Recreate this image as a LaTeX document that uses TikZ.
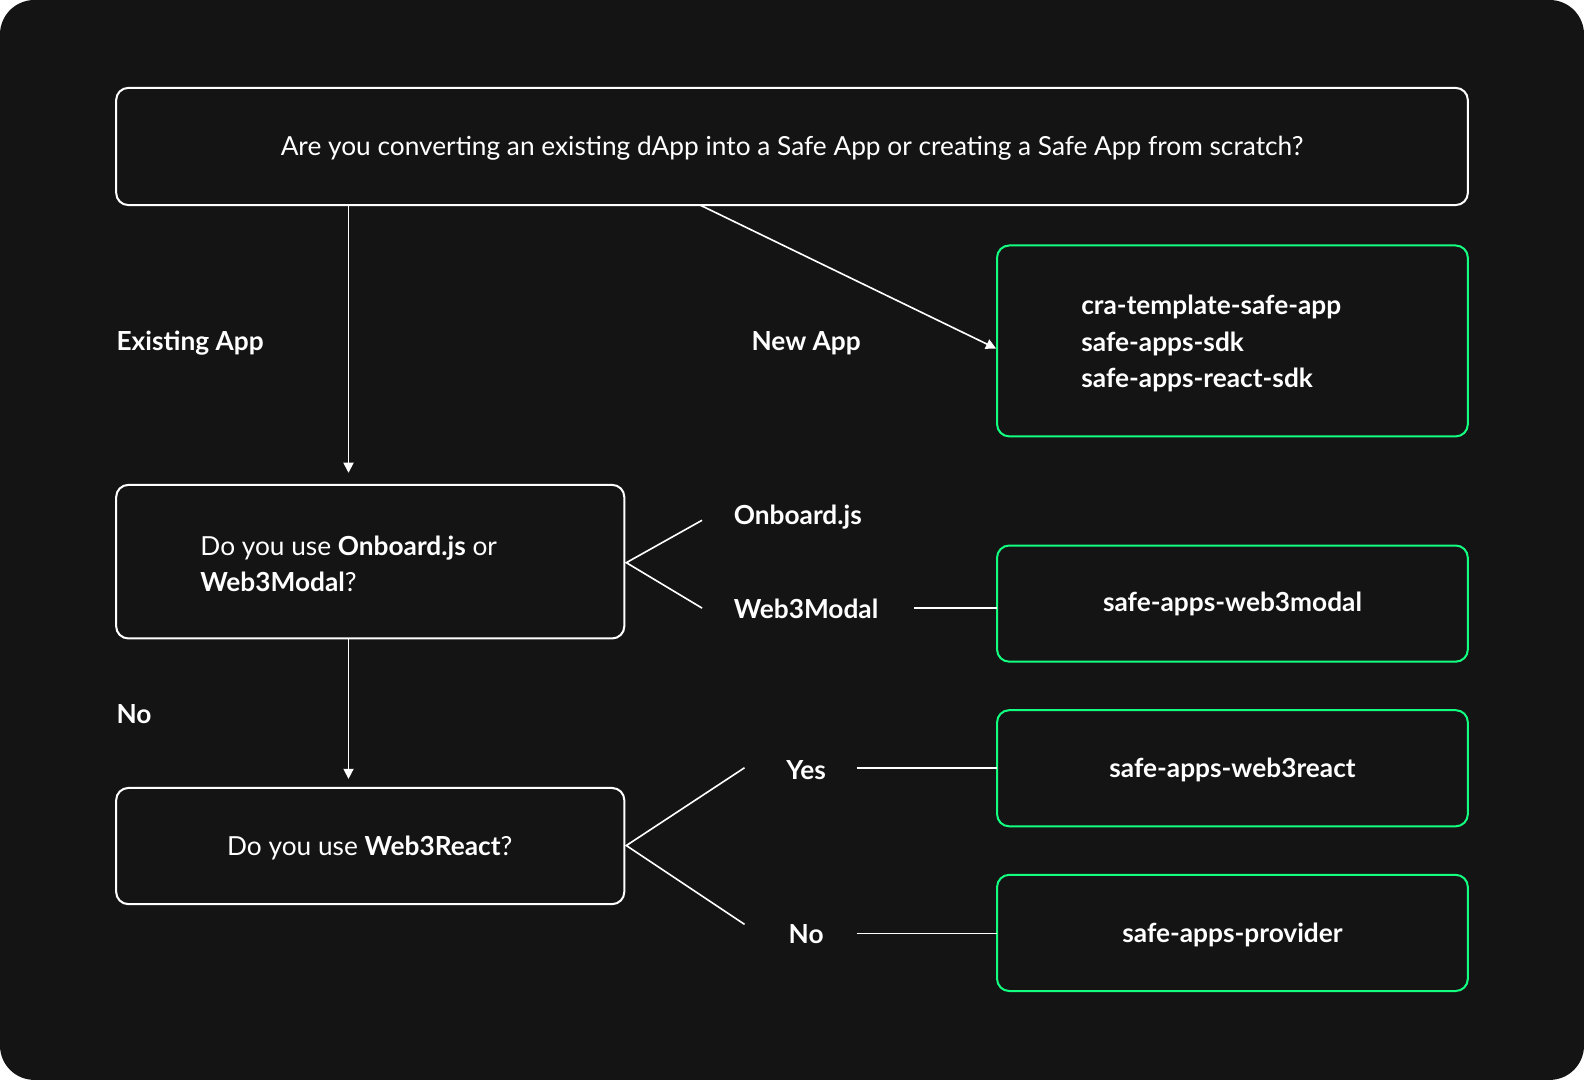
\documentclass[tikz,border=0pt]{standalone}
\usepackage{fontspec}
\setmainfont{Lato}
\usetikzlibrary{arrows.meta}
\definecolor{bg}{HTML}{141414}
\definecolor{grn}{HTML}{12FF80}
\begin{document}
\begin{tikzpicture}[x=0.5pt,y=-0.5pt,
  box/.style={draw=white,line width=1pt,rounded corners=6pt},
  gbox/.style={draw=grn,line width=1pt,rounded corners=6pt},
  ln/.style={draw=white,line width=0.8pt},
  arr/.style={ln,-{Triangle[width=5pt,length=5pt]}},
  txt/.style={text=white,font=\fontsize{13pt}{16pt}\selectfont,inner sep=0pt},
  lbl/.style={text=white,font=\fontsize{13pt}{16pt}\selectfont\bfseries,inner sep=0pt}]
\useasboundingbox (0,0) rectangle (1568,1069);
\fill[white] (0,0) rectangle (1568,1069);
\fill[bg,rounded corners=17pt] (0,0) rectangle (1568,1069);
% boxes
\draw[box] (115,87) rectangle (1453,203);
\node[txt] (q1) at (784,147) {Are you converting an existing dApp into a Safe App or creating a Safe App from scratch?};
\draw[gbox] (987,243) rectangle (1453,432);
\node[lbl,anchor=west,align=left] (g1) at (1070,340) {cra-template-safe-app\\[2pt]safe-apps-sdk\\[2pt]safe-apps-react-sdk};
\draw[box] (115,480) rectangle (618,632);
\node[txt,anchor=west,align=left] (q2) at (198,558) {Do you use \textbf{Onboard.js} or\\[2pt]\textbf{Web3Modal}?};
\draw[gbox] (987,540) rectangle (1453,655);
\node[lbl] (g2) at (1220,598) {safe-apps-web3modal};
\draw[box] (115,780) rectangle (618,895);
\node[txt] (q3) at (366,839) {Do you use \textbf{Web3React}?};
\draw[gbox] (987,703) rectangle (1453,818);
\node[lbl] (g3) at (1220,762) {safe-apps-web3react};
\draw[gbox] (987,866) rectangle (1453,981);
\node[lbl] (g4) at (1220,925) {safe-apps-provider};
% labels
\node[lbl,anchor=west] (l1) at (115,340) {Existing App};
\node[lbl] (l2) at (798,340) {New App};
\node[lbl,anchor=west] (l3) at (726,512) {Onboard.js};
\node[lbl,anchor=west] (l4) at (726,603) {Web3Modal};
\node[lbl,anchor=west] (l5) at (115,707) {No};
\node[lbl] (l6) at (798,762) {Yes};
\node[lbl] (l7) at (798,925) {No};
% coordinates
\coordinate (a1) at (345,203); \coordinate (a2) at (345,468);
\coordinate (b1) at (693,203); \coordinate (b2) at (986,345);
\coordinate (c0) at (620,557); \coordinate (c1) at (695,515); \coordinate (c2) at (695,602);
\coordinate (d1) at (905,602); \coordinate (d2) at (987,602);
\coordinate (e1) at (345,632); \coordinate (e2) at (345,771);
\coordinate (f0) at (620,837); \coordinate (f1) at (737,760); \coordinate (f2) at (737,915);
\coordinate (h1) at (848,760); \coordinate (h2) at (987,760);
\coordinate (i1) at (848,924); \coordinate (i2) at (987,924);
\draw[arr] (a1) -- (a2);
\draw[arr] (b1) -- (b2);
\draw[ln] (c1) -- (c0) -- (c2);
\draw[ln] (d1) -- (d2);
\draw[arr] (e1) -- (e2);
\draw[ln] (f1) -- (f0) -- (f2);
\draw[ln] (h1) -- (h2);
\draw[ln] (i1) -- (i2);
\end{tikzpicture}
\end{document}
